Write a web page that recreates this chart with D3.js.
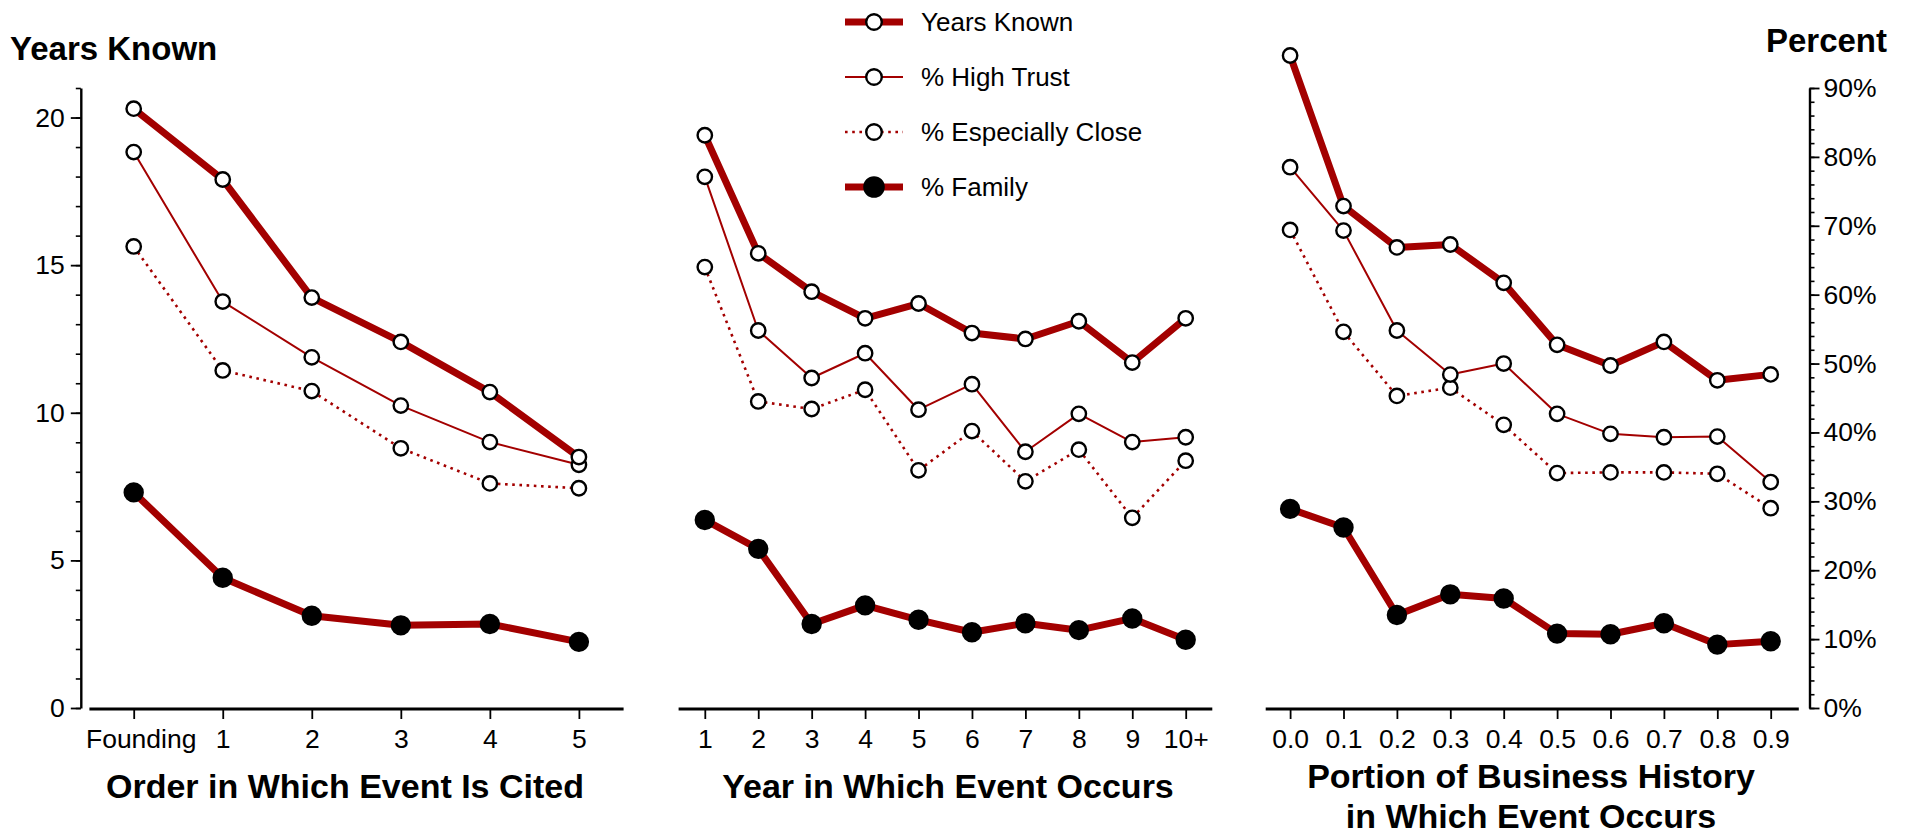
<!DOCTYPE html>
<html>
<head>
<meta charset="utf-8">
<script src="https://cdn.jsdelivr.net/npm/d3@7"></script>
<style>
  body { margin: 0; background: #fff; }
  text { font-family: "Liberation Sans", Arial, Helvetica, sans-serif; fill: #000; }
</style>
</head>
<body>
<svg id="chart" width="1908" height="835"></svg>
<script>
// ---- Categories ----
const orderCats   = ["Founding", "1", "2", "3", "4", "5"];
const yearCats    = ["1", "2", "3", "4", "5", "6", "7", "8", "9", "10+"];
const portionCats = ["0.0", "0.1", "0.2", "0.3", "0.4", "0.5", "0.6", "0.7", "0.8", "0.9"];

// ---- Panel 1: order in which event is cited ----
const orderYearsKnown = [20.3, 17.9, 13.9, 12.4, 10.7, 8.5];    // years
const orderHighTrust  = [80.7, 59.0, 50.9, 43.9, 38.6, 35.3];   // percent
const orderClose      = [67.0, 49.0, 46.0, 37.7, 32.6, 31.9];   // percent
const orderFamily     = [31.3, 18.9, 13.4, 12.0, 12.2, 9.6];    // percent

// ---- Panel 2: year in which event occurs ----
const yearYearsKnown = [19.4, 15.4, 14.1, 13.2, 13.7, 12.7, 12.5, 13.1, 11.7, 13.2];
const yearHighTrust  = [77.1, 54.8, 47.9, 51.5, 43.3, 47.0, 37.2, 42.7, 38.6, 39.3];
const yearClose      = [64.0, 44.5, 43.4, 46.2, 34.5, 40.2, 32.9, 37.5, 27.6, 35.9];
const yearFamily     = [27.3, 23.1, 12.2, 14.9, 12.8, 11.0, 12.3, 11.3, 13.0, 9.9];

// ---- Panel 3: portion of business history ----
const portionYearsKnown = [22.1, 17.0, 15.6, 15.7, 14.4, 12.3, 11.6, 12.4, 11.1, 11.3];
const portionHighTrust  = [78.5, 69.3, 54.8, 48.4, 50.0, 42.7, 39.8, 39.3, 39.4, 32.8];
const portionClose      = [69.4, 54.6, 45.3, 46.5, 41.1, 34.1, 34.2, 34.2, 34.0, 29.0];
const portionFamily     = [28.9, 26.2, 13.5, 16.5, 15.9, 10.8, 10.7, 12.3, 9.2, 9.7];

// ---- Axis ticks and labels ----
const yearsTicks    = [0, 5, 10, 15, 20];
const percentTicks  = [0, 10, 20, 30, 40, 50, 60, 70, 80, 90];
const legendLabels  = ["Years Known", "% High Trust", "% Especially Close", "% Family"];

// ---- Drawing ----
const RED = "#a30000";
const svg = d3.select("#chart");

const yBase = 708, yTop = 88;
const yYears = d3.scaleLinear().domain([0, 21]).range([yBase, yTop]);
const yPct   = d3.scaleLinear().domain([0, 90]).range([yBase, yTop]);

// line / marker styles per series key
const styles = {
  close:  { width: 2.6, dash: "2.6,4.6", fill: "#fff", r: 7.2, scale: yPct },
  trust:  { width: 2.0, dash: null,      fill: "#fff", r: 7.2, scale: yPct },
  years:  { width: 7.0, dash: null,      fill: "#fff", r: 7.2, scale: yYears },
  family: { width: 7.0, dash: null,      fill: "#000", r: 9.0, scale: yPct }
};
const drawOrder = ["close", "trust", "years", "family"];

const panels = [
  { cats: orderCats, range: [133.7, 578.9], span: [89.4, 623.6],
    data: { years: orderYearsKnown, trust: orderHighTrust, close: orderClose, family: orderFamily },
    title: ["Order in Which Event Is Cited"], titleX: 345, titleY: 798 },
  { cats: yearCats, range: [704.8, 1185.7], span: [678.6, 1212.3],
    data: { years: yearYearsKnown, trust: yearHighTrust, close: yearClose, family: yearFamily },
    title: ["Year in Which Event Occurs"], titleX: 948, titleY: 798 },
  { cats: portionCats, range: [1290.1, 1770.7], span: [1265.7, 1798.8],
    data: { years: portionYearsKnown, trust: portionHighTrust, close: portionClose, family: portionFamily },
    title: ["Portion of Business History", "in Which Event Occurs"], titleX: 1531, titleY: 788 }
];

panels.forEach((p, pi) => {
  const x = d3.scalePoint().domain(p.cats).range(p.range);
  const g = svg.append("g");

  // baseline
  g.append("line")
    .attr("x1", p.span[0]).attr("x2", p.span[1])
    .attr("y1", yBase + 1).attr("y2", yBase + 1)
    .attr("stroke", "#000").attr("stroke-width", 3);

  // category ticks and labels
  const ax = g.append("g")
    .attr("transform", `translate(0,${yBase + 1})`)
    .call(d3.axisBottom(x).tickSize(10).tickPadding(10));
  ax.select(".domain").remove();
  ax.selectAll(".tick line").attr("stroke", "#000").attr("stroke-width", 1.8);
  ax.selectAll(".tick text").attr("font-size", 26.5).style("font-family", null);
  if (pi === 0) ax.selectAll(".tick text").filter(d => d === "Founding").attr("dx", 7);

  // series lines
  drawOrder.forEach(key => {
    const s = styles[key];
    const line = d3.line().x((d, i) => x(p.cats[i])).y(d => s.scale(d));
    g.append("path")
      .datum(p.data[key])
      .attr("d", line)
      .attr("fill", "none")
      .attr("stroke", RED)
      .attr("stroke-width", s.width)
      .attr("stroke-linejoin", "round")
      .attr("stroke-dasharray", s.dash);
  });

  // markers
  drawOrder.forEach(key => {
    const s = styles[key];
    g.append("g").selectAll("circle")
      .data(p.data[key])
      .join("circle")
      .attr("cx", (d, i) => x(p.cats[i]))
      .attr("cy", d => s.scale(d))
      .attr("r", s.r)
      .attr("fill", s.fill)
      .attr("stroke", "#000")
      .attr("stroke-width", 2.4);
  });

  // axis title
  const t = g.append("text")
    .attr("x", p.titleX).attr("y", p.titleY)
    .attr("text-anchor", "middle")
    .attr("font-size", 34).attr("font-weight", "bold");
  p.title.forEach((line, li) => {
    t.append("tspan").attr("x", p.titleX).attr("dy", li === 0 ? 0 : 40).text(line);
  });
});

// left axis: years known
const leftX = 80.8;
const leftMinor = svg.append("g").attr("transform", `translate(${leftX},0)`)
  .call(d3.axisLeft(yYears).tickValues(d3.range(0, 22)).tickSize(5).tickSizeOuter(0).tickFormat(""));
leftMinor.select(".domain").remove();
leftMinor.selectAll(".tick line").attr("stroke-width", 1.6);
const leftAxis = svg.append("g").attr("transform", `translate(${leftX},0)`)
  .call(d3.axisLeft(yYears).tickValues(yearsTicks).tickSize(10).tickSizeOuter(0).tickPadding(6));
leftAxis.select(".domain").attr("stroke-width", 2.4);
leftAxis.selectAll(".tick line").attr("stroke-width", 1.8);
leftAxis.selectAll(".tick text").attr("font-size", 26.5).style("font-family", null);

// right axis: percent
const rightX = 1809.5;
const rightMinor = svg.append("g").attr("transform", `translate(${rightX},0)`)
  .call(d3.axisRight(yPct).tickValues(d3.range(0, 91, 2)).tickSize(5).tickSizeOuter(0).tickFormat(""));
rightMinor.select(".domain").remove();
rightMinor.selectAll(".tick line").attr("stroke-width", 1.6);
const rightAxis = svg.append("g").attr("transform", `translate(${rightX},0)`)
  .call(d3.axisRight(yPct).tickValues(percentTicks).tickSize(10).tickSizeOuter(0).tickPadding(4)
    .tickFormat(d => d + "%"));
rightAxis.select(".domain").attr("stroke-width", 2.4);
rightAxis.selectAll(".tick line").attr("stroke-width", 1.8);
rightAxis.selectAll(".tick text").attr("font-size", 26.5).style("font-family", null);

// axis headings
svg.append("text").attr("x", 10).attr("y", 60)
  .attr("font-size", 33).attr("font-weight", "bold").text("Years Known");
svg.append("text").attr("x", 1887).attr("y", 52).attr("text-anchor", "end")
  .attr("font-size", 33).attr("font-weight", "bold").text("Percent");

// legend
const legend = svg.append("g");
const legendKeys = ["years", "trust", "close", "family"];
legendKeys.forEach((key, i) => {
  const s = styles[key];
  const cy = 22 + i * 55;
  const row = legend.append("g").attr("transform", `translate(0,${cy})`);
  row.append("line")
    .attr("x1", 845).attr("x2", 903).attr("y1", 0).attr("y2", 0)
    .attr("stroke", RED).attr("stroke-width", s.width)
    .attr("stroke-dasharray", s.dash);
  row.append("circle")
    .attr("cx", 874).attr("cy", 0).attr("r", s.r + 0.6)
    .attr("fill", s.fill).attr("stroke", "#000").attr("stroke-width", 2.4);
  row.append("text")
    .attr("x", 921).attr("y", 9.3)
    .attr("font-size", 26).text(legendLabels[i]);
});
</script>
</body>
</html>
